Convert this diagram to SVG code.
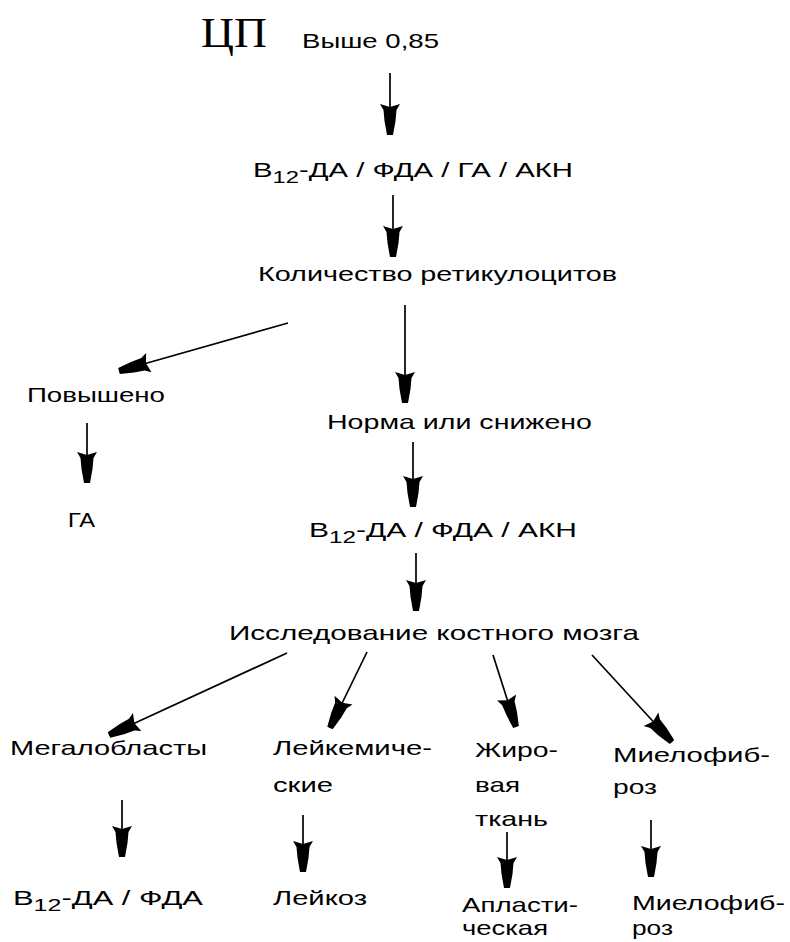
<svg xmlns="http://www.w3.org/2000/svg" width="790" height="942" viewBox="0 0 790 942">
<style>
.t{font-family:"Liberation Sans",Arial,sans-serif;font-size:21px;fill:#000}
.s{font-family:"Liberation Serif","Times New Roman",serif;font-size:42px;fill:#000}
.c{stroke:#000;stroke-width:1.7;fill:none;marker-end:url(#ah)}
</style>
<defs>
<marker id="ah" viewBox="-33 -11 35 22" refX="0" refY="0" markerWidth="35" markerHeight="22" markerUnits="userSpaceOnUse" orient="auto">
<path d="M0,-3 L0,3 L-14,5.5 L-25,6.5 L-31,10 L-28,0 L-31,-10 L-25,-6.5 L-14,-5.5 Z" fill="#000"/>
</marker>
</defs>
<rect width="790" height="942" fill="#fff"/>
<g id="connectors">
<path class="c" d="M390,73 L390,135"/>
<path class="c" d="M393,195 L393,257"/>
<path class="c" d="M288,323 L119,371"/>
<path class="c" d="M405,305 L405,403"/>
<path class="c" d="M87,423 L87,483"/>
<path class="c" d="M413,442 L413,507"/>
<path class="c" d="M416,553 L416,611"/>
<path class="c" d="M287,653 L109,735"/>
<path class="c" d="M367,652 L330,728"/>
<path class="c" d="M493,655 L516,727"/>
<path class="c" d="M592,655 L672,742"/>
<path class="c" d="M122,800 L122,857"/>
<path class="c" d="M303,815 L303,872"/>
<path class="c" d="M507,832 L507,888"/>
<path class="c" d="M651,820 L651,877"/>
</g>
<g id="n-cp">
<text class="s" x="201" y="47" textLength="66" lengthAdjust="spacingAndGlyphs">ЦП</text>
<text class="t" x="302" y="48" textLength="137" lengthAdjust="spacingAndGlyphs">Выше 0,85</text>
</g>
<g id="n-b12-all">
<text class="t" x="253" y="177" textLength="320" lengthAdjust="spacingAndGlyphs">B<tspan font-size="17" dy="6">12</tspan><tspan dy="-6">-ДА / ФДА / ГА / АКН</tspan></text>
</g>
<g id="n-retic">
<text class="t" x="258" y="281" textLength="359" lengthAdjust="spacingAndGlyphs">Количество ретикулоцитов</text>
</g>
<g id="n-up">
<text class="t" x="27" y="402" textLength="138" lengthAdjust="spacingAndGlyphs">Повышено</text>
</g>
<g id="n-ga">
<text class="t" x="68" y="527" textLength="27" lengthAdjust="spacingAndGlyphs">ГА</text>
</g>
<g id="n-norm">
<text class="t" x="327" y="429" textLength="265" lengthAdjust="spacingAndGlyphs">Норма или снижено</text>
</g>
<g id="n-b12-akn">
<text class="t" x="309" y="537" textLength="268" lengthAdjust="spacingAndGlyphs">B<tspan font-size="17" dy="6">12</tspan><tspan dy="-6">-ДА / ФДА / АКН</tspan></text>
</g>
<g id="n-marrow">
<text class="t" x="229" y="640" textLength="410" lengthAdjust="spacingAndGlyphs">Исследование костного мозга</text>
</g>
<g id="n-mega">
<text class="t" x="10" y="755" textLength="197" lengthAdjust="spacingAndGlyphs">Мегалобласты</text>
</g>
<g id="n-leuk">
<text class="t" x="273" y="755" textLength="159" lengthAdjust="spacingAndGlyphs">Лейкемиче-</text>
<text class="t" x="273" y="792" textLength="60" lengthAdjust="spacingAndGlyphs">ские</text>
</g>
<g id="n-fat">
<text class="t" x="475" y="757" textLength="83" lengthAdjust="spacingAndGlyphs">Жиро-</text>
<text class="t" x="475" y="792" textLength="45" lengthAdjust="spacingAndGlyphs">вая</text>
<text class="t" x="475" y="826" textLength="73" lengthAdjust="spacingAndGlyphs">ткань</text>
</g>
<g id="n-myelo1">
<text class="t" x="613" y="762" textLength="157" lengthAdjust="spacingAndGlyphs">Миелофиб-</text>
<text class="t" x="613" y="794" textLength="44" lengthAdjust="spacingAndGlyphs">роз</text>
</g>
<g id="n-b12-fda">
<text class="t" x="13" y="905" textLength="190" lengthAdjust="spacingAndGlyphs">B<tspan font-size="17" dy="6">12</tspan><tspan dy="-6">-ДА / ФДА</tspan></text>
</g>
<g id="n-leukosis">
<text class="t" x="273" y="905" textLength="94" lengthAdjust="spacingAndGlyphs">Лейкоз</text>
</g>
<g id="n-aplastic">
<text class="t" x="462" y="912" textLength="116" lengthAdjust="spacingAndGlyphs">Апласти-</text>
<text class="t" x="462" y="935" textLength="86" lengthAdjust="spacingAndGlyphs">ческая</text>
</g>
<g id="n-myelo2">
<text class="t" x="632" y="910" textLength="153" lengthAdjust="spacingAndGlyphs">Миелофиб-</text>
<text class="t" x="632" y="935" textLength="41" lengthAdjust="spacingAndGlyphs">роз</text>
</g>
</svg>
